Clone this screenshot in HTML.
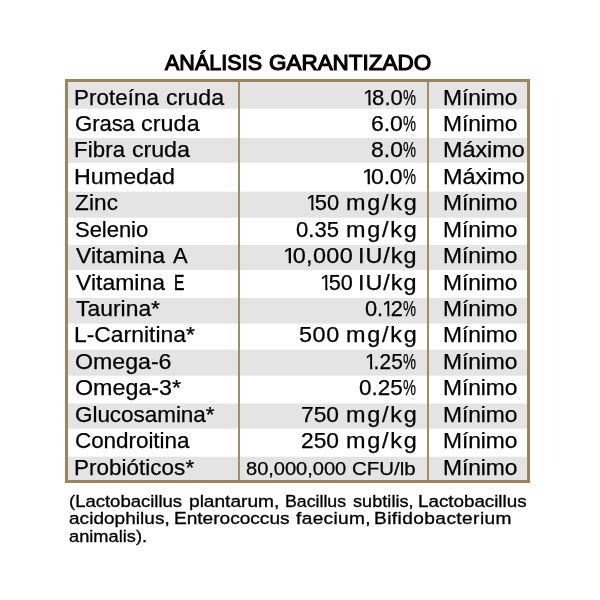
<!DOCTYPE html>
<html lang="es"><head><meta charset="utf-8"><title>Análisis garantizado</title>
<style>
html,body{margin:0;padding:0}
body{width:600px;height:600px;background:#fff;position:relative;overflow:hidden;font-family:'Liberation Sans',sans-serif;color:#000}
h1,p{margin:0;font:inherit}
.b{position:absolute;left:67px;width:461px;background:#e4e4e4}
.f{position:absolute;left:65px;top:79px;width:459px;height:398px;border:3px solid #99865a}
.v{position:absolute;top:81px;height:400px;width:2px;background:#a08e63}
.t{position:absolute;white-space:pre;line-height:30px;font-size:21.3px;-webkit-text-stroke:0.25px #000}
.t b{display:inline-block;position:relative;font-weight:inherit;transform-origin:0 0}
h1 .t{-webkit-text-stroke-width:1.1px}
p .t{font-size:17.4px;-webkit-text-stroke-width:0.33px}
i{font-style:normal;display:inline-block;margin:0 -0.155em 0 -0.045em;clip-path:polygon(0 0,0.345em 0,0.345em 100%,0.245em 100%,0.245em 19.7px,0 19.7px)}

</style></head><body>
<div class="b" style="top:82px;height:26px;border-bottom:1px solid #e9e9e9"></div>
<div class="b" style="top:138px;height:24px;border-bottom:1px solid #e9e9e9"></div>
<div class="b" style="top:191px;height:25px;border-top:1px solid #f7f7f7;border-bottom:1px solid #ececec"></div>
<div class="b" style="top:245px;height:25px"></div>
<div class="b" style="top:298px;height:25px;border-bottom:1px solid #ececec"></div>
<div class="b" style="top:349px;height:25px;border-top:1px solid #f7f7f7;border-bottom:1px solid #ececec"></div>
<div class="b" style="top:403px;height:24px;border-top:1px solid #f2f2f2;border-bottom:1px solid #ececec"></div>
<div class="b" style="top:456px;height:23px;border-top:1px solid #f7f7f7"></div>
<div class="v" style="left:238px"></div><div class="v" style="left:427px"></div>
<div class="f"></div>
<h1><span class="t" style="left:165px;top:48px"><b style="letter-spacing:0.023px;transform:scaleX(1.0101)">ANÁLISIS</b> <b style="left:2.016px;transform:scaleX(1.0537)">GARANTIZADO</b></span></h1>
<div class="table">
<div class="row">
 <div class="cell"><span class="t" style="left:74px;top:83px"><b style="letter-spacing:0.062px;transform:scaleX(1.0491)">Proteína</b> <b style="left:5.078px;letter-spacing:0.041px;transform:scaleX(1.0860)">cruda</b></span></div>
 <div class="cell"><span class="t" style="left:364px;top:83px"><b style="letter-spacing:0.081px;transform:scaleX(1.0390)"><i>1</i>8.0</b><b style="left:1.453px;transform:scaleX(0.6889)">%</b></span></div>
 <div class="cell"><span class="t" style="left:443px;top:83px"><b style="letter-spacing:-0.064px;transform:scaleX(1.0701)">Mínimo</b></span></div>
</div>
<div class="row">
 <div class="cell"><span class="t" style="left:75px;top:109px"><b style="letter-spacing:-0.102px;transform:scaleX(1.0410)">Grasa</b> <b style="left:2.578px;letter-spacing:0.076px;transform:scaleX(1.0936)">cruda</b></span></div>
 <div class="cell"><span class="t" style="left:371px;top:109px"><b style="letter-spacing:-0.054px;transform:scaleX(1.0822)">6.0</b><b style="left:2.547px;transform:scaleX(0.6889)">%</b></span></div>
 <div class="cell"><span class="t" style="left:443px;top:109px"><b style="letter-spacing:-0.064px;transform:scaleX(1.0701)">Mínimo</b></span></div>
</div>
<div class="row">
 <div class="cell"><span class="t" style="left:74px;top:135px"><b style="letter-spacing:0.124px;transform:scaleX(1.0400)">Fibra</b> <b style="left:2.922px;letter-spacing:-0.091px;transform:scaleX(1.0936)">cruda</b></span></div>
 <div class="cell"><span class="t" style="left:371px;top:135px"><b style="letter-spacing:0.043px;transform:scaleX(1.0759)">8.0</b><b style="left:2.250px;transform:scaleX(0.6889)">%</b></span></div>
 <div class="cell"><span class="t" style="left:443px;top:135px"><b style="letter-spacing:-0.042px;transform:scaleX(1.1000)">Máximo</b></span></div>
</div>
<div class="row">
 <div class="cell"><span class="t" style="left:74px;top:162px"><b style="letter-spacing:0.037px;transform:scaleX(1.0904)">Humedad</b></span></div>
 <div class="cell"><span class="t" style="left:363px;top:162px"><b style="letter-spacing:-0.174px;transform:scaleX(1.0815)"><i>1</i>0.0</b><b style="left:3.484px;transform:scaleX(0.6889)">%</b></span></div>
 <div class="cell"><span class="t" style="left:443px;top:162px"><b style="letter-spacing:-0.042px;transform:scaleX(1.1000)">Máximo</b></span></div>
</div>
<div class="row">
 <div class="cell"><span class="t" style="left:75px;top:188px"><b style="letter-spacing:0.106px;transform:scaleX(1.0600)">Zinc</b></span></div>
 <div class="cell"><span class="t" style="left:307px;top:188px"><b style="letter-spacing:-0.009px;transform:scaleX(1.0293)"><i>1</i>50</b> <b style="left:1.828px;letter-spacing:1.565px;transform:scaleX(1.1000)">mg/kg</b></span></div>
 <div class="cell"><span class="t" style="left:443px;top:188px"><b style="letter-spacing:-0.064px;transform:scaleX(1.0701)">Mínimo</b></span></div>
</div>
<div class="row">
 <div class="cell"><span class="t" style="left:75px;top:215px"><b style="letter-spacing:-0.051px;transform:scaleX(1.0344)">Selenio</b></span></div>
 <div class="cell"><span class="t" style="left:296px;top:215px"><b style="letter-spacing:0.020px;transform:scaleX(1.0363)">0.35</b> <b style="left:2.547px;letter-spacing:1.565px;transform:scaleX(1.1000)">mg/kg</b></span></div>
 <div class="cell"><span class="t" style="left:443px;top:215px"><b style="letter-spacing:-0.064px;transform:scaleX(1.0701)">Mínimo</b></span></div>
</div>
<div class="row">
 <div class="cell"><span class="t" style="left:76px;top:241px"><b style="letter-spacing:0.015px;transform:scaleX(1.0775)">Vitamina</b> <b style="left:8.484px;transform:scaleX(1.0349)">A</b></span></div>
 <div class="cell"><span class="t" style="left:284px;top:241px"><b style="letter-spacing:0.304px;transform:scaleX(1.1000)"><i>1</i>0,000</b> <b style="left:5.344px;letter-spacing:0.883px;transform:scaleX(1.1000)">IU/kg</b></span></div>
 <div class="cell"><span class="t" style="left:443px;top:241px"><b style="letter-spacing:-0.064px;transform:scaleX(1.0701)">Mínimo</b></span></div>
</div>
<div class="row">
 <div class="cell"><span class="t" style="left:76px;top:268px"><b style="letter-spacing:0.015px;transform:scaleX(1.0775)">Vitamina</b> <b style="left:9.484px;transform:scaleX(0.7270);-webkit-text-stroke-width:0.70px">E</b></span></div>
 <div class="cell"><span class="t" style="left:321px;top:268px"><b style="letter-spacing:-0.052px;transform:scaleX(1.0158)"><i>1</i>50</b> <b style="left:-0.078px;letter-spacing:0.883px;transform:scaleX(1.1000)">IU/kg</b></span></div>
 <div class="cell"><span class="t" style="left:443px;top:268px"><b style="letter-spacing:-0.064px;transform:scaleX(1.0701)">Mínimo</b></span></div>
</div>
<div class="row">
 <div class="cell"><span class="t" style="left:76px;top:294px"><b style="letter-spacing:0.030px;transform:scaleX(1.0721)">Taurina*</b></span></div>
 <div class="cell"><span class="t" style="left:365px;top:294px"><b style="letter-spacing:-0.085px;transform:scaleX(1.0257)">0.<i>1</i>2</b><b style="left:1.125px;transform:scaleX(0.6889)">%</b></span></div>
 <div class="cell"><span class="t" style="left:443px;top:294px"><b style="letter-spacing:-0.064px;transform:scaleX(1.0701)">Mínimo</b></span></div>
</div>
<div class="row">
 <div class="cell"><span class="t" style="left:74px;top:320px"><b style="letter-spacing:0.016px;transform:scaleX(1.0727)">L-Carnitina*</b></span></div>
 <div class="cell"><span class="t" style="left:299px;top:320px"><b style="letter-spacing:0.505px;transform:scaleX(1.1000)">500</b> <b style="left:4.016px;letter-spacing:1.565px;transform:scaleX(1.1000)">mg/kg</b></span></div>
 <div class="cell"><span class="t" style="left:443px;top:320px"><b style="letter-spacing:-0.064px;transform:scaleX(1.0701)">Mínimo</b></span></div>
</div>
<div class="row">
 <div class="cell"><span class="t" style="left:75px;top:347px"><b style="letter-spacing:-0.034px;transform:scaleX(1.0892)">Omega-6</b></span></div>
 <div class="cell"><span class="t" style="left:366px;top:347px"><b style="letter-spacing:0.121px;transform:scaleX(0.9819)"><i>1</i>.25</b><b style="left:-0.688px;transform:scaleX(0.6889)">%</b></span></div>
 <div class="cell"><span class="t" style="left:443px;top:347px"><b style="letter-spacing:-0.064px;transform:scaleX(1.0701)">Mínimo</b></span></div>
</div>
<div class="row">
 <div class="cell"><span class="t" style="left:75px;top:373px"><b style="letter-spacing:-0.008px;transform:scaleX(1.0934)">Omega-3*</b></span></div>
 <div class="cell"><span class="t" style="left:359px;top:373px"><b style="letter-spacing:0.022px;transform:scaleX(1.0564)">0.25</b><b style="left:2.453px;transform:scaleX(0.6889)">%</b></span></div>
 <div class="cell"><span class="t" style="left:443px;top:373px"><b style="letter-spacing:-0.064px;transform:scaleX(1.0701)">Mínimo</b></span></div>
</div>
<div class="row">
 <div class="cell"><span class="t" style="left:75px;top:400px"><b style="letter-spacing:-0.048px;transform:scaleX(1.0566)">Glucosamina*</b></span></div>
 <div class="cell"><span class="t" style="left:301px;top:400px"><b style="letter-spacing:-0.022px;transform:scaleX(1.0696)">750</b> <b style="left:3.609px;letter-spacing:1.565px;transform:scaleX(1.1000)">mg/kg</b></span></div>
 <div class="cell"><span class="t" style="left:443px;top:400px"><b style="letter-spacing:-0.064px;transform:scaleX(1.0701)">Mínimo</b></span></div>
</div>
<div class="row">
 <div class="cell"><span class="t" style="left:75px;top:426px"><b style="letter-spacing:-0.053px;transform:scaleX(1.0553)">Condroitina</b></span></div>
 <div class="cell"><span class="t" style="left:301px;top:426px"><b style="letter-spacing:-0.022px;transform:scaleX(1.0695)">250</b> <b style="left:3.609px;letter-spacing:1.565px;transform:scaleX(1.1000)">mg/kg</b></span></div>
 <div class="cell"><span class="t" style="left:443px;top:426px"><b style="letter-spacing:-0.064px;transform:scaleX(1.0701)">Mínimo</b></span></div>
</div>
<div class="row">
 <div class="cell"><span class="t" style="left:74px;top:453px"><b style="letter-spacing:0.020px;transform:scaleX(1.0550)">Probióticos*</b></span></div>
 <div class="cell"><span class="t" style="left:246px;top:454px;font-size:19.0px"><b style="letter-spacing:-0.026px;transform:scaleX(1.0569)">80,000,000</b> <b style="left:5.875px;letter-spacing:0.012px;transform:scaleX(1.0745)">CFU/lb</b></span></div>
 <div class="cell"><span class="t" style="left:443px;top:453px"><b style="letter-spacing:-0.064px;transform:scaleX(1.0701)">Mínimo</b></span></div>
</div>
</div>
<p><span class="t" style="left:69px;top:486px"><b style="letter-spacing:-0.022px;transform:scaleX(1.0659)">(Lactobacillus</b> <b style="left:9.125px;letter-spacing:-0.012px;transform:scaleX(1.1000)">plantarum,</b> <b style="left:18.234px;letter-spacing:-0.015px;transform:scaleX(1.0213)">Bacillus</b> <b style="left:21.578px;letter-spacing:0.023px;transform:scaleX(1.0416)">subtilis,</b> <b style="left:23.531px;letter-spacing:-0.031px;transform:scaleX(1.0837)">Lactobacillus</b></span>
<span class="t" style="left:69px;top:503px"><b style="letter-spacing:0.045px;transform:scaleX(1.0906)">acidophilus,</b> <b style="left:7.766px;letter-spacing:-0.019px;transform:scaleX(1.0990)">Enterococcus</b> <b style="left:19.781px;letter-spacing:0.306px;transform:scaleX(1.1000)">faecium,</b> <b style="left:24.750px;letter-spacing:0.369px;transform:scaleX(1.1000)">Bifidobacterium</b></span>
<span class="t" style="left:69px;top:521px"><b style="letter-spacing:0.012px;transform:scaleX(1.0475)">animalis).</b></span></p>
</body></html>
